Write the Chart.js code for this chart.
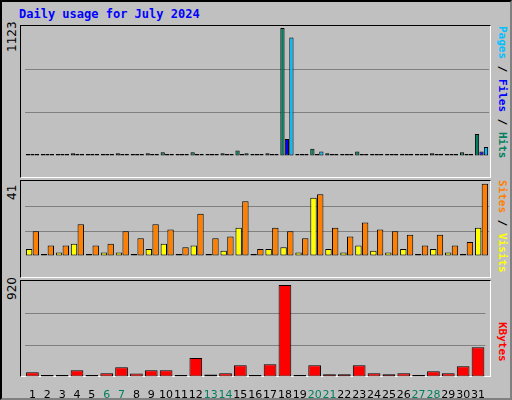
<!DOCTYPE html>
<html><head><meta charset="utf-8">
<script src="https://cdn.jsdelivr.net/npm/chart.js@4/dist/chart.umd.min.js"></script>
<style>
body{margin:0;width:512px;height:400px;overflow:hidden;background:#fff}
#frame{position:absolute;left:0;top:0;width:508px;height:396px;background:#c0c0c0;border:2px solid #000;border-right-color:#808080;border-bottom-color:#808080;box-sizing:content-box}
.panel{position:absolute;left:20px;width:469px;border-top:1px solid #000;border-left:1px solid #000;border-right:1px solid #fff;border-bottom:1px solid #fff}
.title{position:absolute;left:19px;top:7px;font:bold 12px "DejaVu Sans Mono",monospace;color:#0000ff}
.ylab{position:absolute;font:12px "DejaVu Sans",sans-serif;transform:rotate(-90deg);transform-origin:left top;white-space:nowrap}
.rlab{position:absolute;font:bold 11px "DejaVu Sans Mono",monospace;transform:rotate(90deg);transform-origin:left top;white-space:nowrap}
canvas{position:absolute}
</style></head><body>
<div id="frame"></div>
<div class="title">Daily usage for July 2024</div>
<div class="panel" style="top:25px;height:151px"></div>
<div class="panel" style="top:180px;height:96px"></div>
<div class="panel" style="top:280px;height:95px"></div>
<div class="ylab" style="left:5px;top:52px">1123</div>
<div class="ylab" style="left:5px;top:200px">41</div>
<div class="ylab" style="left:5px;top:300px">920</div>
<div class="rlab" style="left:509px;top:26px"><span style="color:#00c0ff">Pages</span><span style="color:#000"> / </span><span style="color:#0000ff">Files</span><span style="color:#000"> / </span><span style="color:#008060">Hits</span></div>
<div class="rlab" style="left:509px;top:180px"><span style="color:#ff8000">Sites</span><span style="color:#000"> / </span><span style="color:#ffff00">Visits</span></div>
<div class="rlab" style="left:509px;top:322px"><span style="color:#ff0000">KBytes</span></div>
<canvas id="c1" width="464" height="151" style="left:25px;top:26px"></canvas>
<canvas id="c2" width="464" height="96" style="left:25px;top:181px"></canvas>
<canvas id="c3" width="464" height="117" style="left:25px;top:281px"></canvas>
<script>
const days = Array.from({length: 31}, (_, i) => String(i + 1));
const weekend = ['6','7','13','14','20','21','27','28'];
const hits   = [18,5,18,25,5,18,25,18,25,33,5,33,18,25,48,5,25,1123,18,63,25,18,40,18,18,18,5,25,5,33,192];
const files  = [3,2,3,3,2,3,3,3,3,10,2,3,3,3,5,2,3,150,3,8,3,3,15,3,3,3,2,3,2,15,40];
const pages  = [5,3,5,5,3,5,5,5,5,8,3,5,5,5,25,3,5,1040,5,40,5,5,18,5,5,5,3,5,3,18,78];
const sites  = [4,0,2,7,1,2,2,1,4,7,0,6,1,3,16,0,4,5,2,33,4,2,6,3,2,4,1,4,2,1,16];
const visits = [14,6,6,18,6,7,14,10,18,15,5,24,10,11,31,4,16,14,10,35,16,11,19,15,14,12,6,12,6,8,41];
const kbytes = [47,10,10,67,10,37,98,34,67,67,10,189,24,37,118,10,128,920,10,118,27,27,118,37,27,37,10,57,37,108,297];

const ds = (data, color) => ({data, backgroundColor: color, borderColor: '#000', borderWidth: 1, borderSkipped: false, minBarLength: 2});

function panel(id, datasets, max, showX) {
    new Chart(document.getElementById(id), {
        type: 'bar',
        data: {labels: days, datasets},
        options: {
            responsive: false, animation: false, devicePixelRatio: 1,
            layout: {padding: 0},
            plugins: {legend: {display: false}, tooltip: {enabled: false}},
            datasets: {bar: {categoryPercentage: 0.9, barPercentage: 0.95}},
            scales: {
                x: {display: showX, grid: {display: false}, border: {display: false},
                    afterFit: s => { s.height = 21; },
                    ticks: {padding: 4, maxRotation: 0, autoSkip: false, font: {family: 'DejaVu Sans', size: 11},
                            color: c => weekend.includes(days[c.index]) ? '#008060' : '#000'}},
                y: {min: 0, max, afterFit: s => { s.width = 0; },
                    ticks: {display: false, stepSize: max / 3},
                    border: {display: false},
                    grid: {color: c => c.tick.value > 0 && c.tick.value < max ? '#808080' : 'transparent', lineWidth: 1, drawTicks: false}}
            }
        }
    });
}
panel('c1', [ds(hits, '#008060'), ds(files, '#0000ff'), ds(pages, '#00c0ff')], 1140, false);
panel('c2', [ds(sites, '#ffff00'), ds(visits, '#ff8000')], 42.5, false);
panel('c3', [ds(kbytes, '#ff0000')], 960, true);
</script>
</body></html>
